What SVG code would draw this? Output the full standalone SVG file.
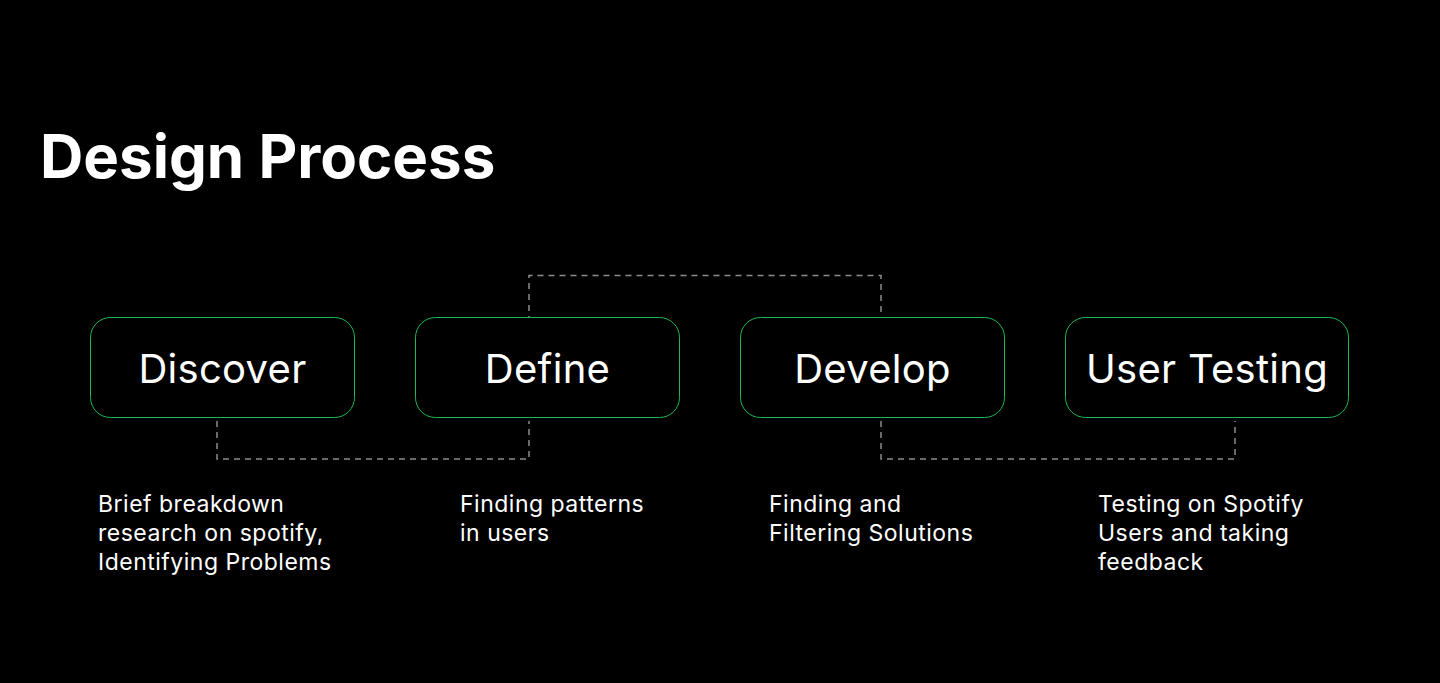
<svg xmlns="http://www.w3.org/2000/svg" width="1440" height="683" viewBox="0 0 1440 683">
<style>
.title{font-family:Inter,"Liberation Sans",sans-serif;font-weight:700;font-size:60px;fill:#fff}
.node rect{fill:#000;stroke:#1db954;stroke-width:1}
.label{font-family:Inter,"Liberation Sans",sans-serif;font-size:40px;letter-spacing:0.3px;fill:#fff;text-anchor:middle}
.desc{font-family:Inter,"Liberation Sans",sans-serif;font-size:23px;letter-spacing:0.5px;fill:#fff}
.conn{fill:none;stroke:#8c8c8c;stroke-width:1.5;stroke-dasharray:6 5}
</style>
<rect width="1440" height="683" fill="#000"/>
<text class="title" x="40" y="178">Design Process</text>
<g id="connectors">
<path class="conn" d="M217 421 V459 H529 V421"/>
<path class="conn" d="M529 322 V275.5 H881 V322"/>
<path class="conn" d="M881 421 V459 H1235 V421"/>
</g>
<g id="discover" class="node">
<rect x="90.5" y="317.5" width="264" height="100" rx="20"/>
<text class="label" x="222.5" y="383">Discover</text>
</g>
<g id="define" class="node">
<rect x="415.5" y="317.5" width="264" height="100" rx="20"/>
<text class="label" x="547.5" y="383">Define</text>
</g>
<g id="develop" class="node">
<rect x="740.5" y="317.5" width="264" height="100" rx="20"/>
<text class="label" x="872.5" y="383">Develop</text>
</g>
<g id="user-testing" class="node">
<rect x="1065.5" y="317.5" width="283" height="100" rx="20"/>
<text class="label" x="1207" y="383">User Testing</text>
</g>
<g id="descriptions">
<text class="desc" x="98" y="512">Brief breakdown<tspan x="98" dy="29">research on spotify,</tspan><tspan x="98" dy="29">Identifying Problems</tspan></text>
<text class="desc" x="460" y="512">Finding patterns<tspan x="460" dy="29">in users</tspan></text>
<text class="desc" x="769" y="512">Finding and<tspan x="769" dy="29">Filtering Solutions</tspan></text>
<text class="desc" x="1098" y="512">Testing on Spotify<tspan x="1098" dy="29">Users and taking</tspan><tspan x="1098" dy="29">feedback</tspan></text>
</g>
</svg>
